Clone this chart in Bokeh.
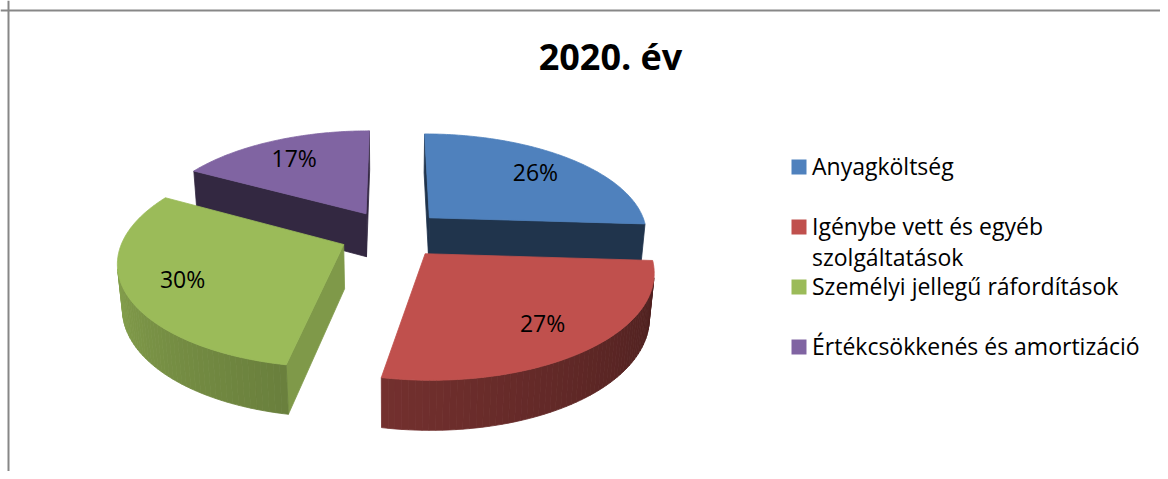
import numpy as np
from bokeh.plotting import figure
from bokeh.models import Range1d, Span, ColumnDataSource
from bokeh.core.properties import value
from bokeh.embed import file_html
from bokeh.resources import INLINE

# ---------------- data ----------------
title_text = "2020. év"
categories = [
    "Anyagköltség",
    "Igénybe vett és egyéb\nszolgáltatások",
    "Személyi jellegű ráfordítások",
    "Értékcsökkenés és amortizáció",
]
values = [26, 27, 30, 17]
colors = ["#4F81BD", "#C0504D", "#9BBB59", "#8064A2"]

# ---------------- style / geometry ----------------
W, H = 1160, 471
CX, CY = 391.5, 233.5      # pie centre (px, y downward)
K = 219                    # px per radius
SIN_T = 0.461
COS_T = float(np.sqrt(1 - SIN_T ** 2))
DIST = 5.91                # perspective distance (radii)
DEPTH = 0.23               # pie thickness (radii)
EXPLODE = 0.24
LABEL_R = 0.75
wall_shade = [(0.40, 0.40), (0.38, 0.60), (0.68, 0.95), (0.45, 0.45)]
side_shade = [0.40, 0.45, 0.82, 0.40]
FONT = "Open Sans"


def proj(X, Y, Z):
    sy = Y * COS_T - Z * SIN_T
    dz = Z * COS_T + Y * SIN_T
    s = DIST / (DIST - dz)
    return CX + K * X * s, CY - K * sy * s


def shade(hexc, f):
    h = hexc.lstrip("#")
    r, g, b = (int(h[i:i + 2], 16) for i in (0, 2, 4))
    return "#%02x%02x%02x" % tuple(max(0, min(255, int(round(c * f)))) for c in (r, g, b))


def visible(xs, ys):
    a = 0.0
    n = len(xs)
    for i in range(n):
        j = (i + 1) % n
        a += xs[i] * (-ys[j]) - xs[j] * (-ys[i])
    return a > 0


total = float(sum(values))
fracs = [v / total for v in values]
starts = np.concatenate([[0], np.cumsum(fracs)[:-1]]) * 360.0
ends = np.cumsum(fracs) * 360.0

slices = []
for i in range(len(values)):
    ts, te = starts[i], ends[i]
    tm = np.radians((ts + te) / 2)
    ox, oz = EXPLODE * np.sin(tm), -EXPLODE * np.cos(tm)
    slices.append((oz, i, ts, te, ox))

poly_x, poly_y, poly_c = [], [], []


def add(pts, col, cull=True):
    xs = [p[0] for p in pts]
    ys = [p[1] for p in pts]
    if cull and not visible(xs, ys):
        return
    poly_x.append(xs)
    poly_y.append(ys)
    poly_c.append(col)


label_x, label_y, label_t = [], [], []

for oz, i, ts, te, ox in sorted(slices):
    base = colors[i]

    def T(th, Y=0.0):
        r = np.radians(th)
        return proj(ox + np.sin(r), Y, oz - np.cos(r))

    CT = proj(ox, 0.0, oz)
    CB = proj(ox, -DEPTH, oz)
    add([CT, T(ts), T(ts, -DEPTH), CB], shade(base, side_shade[i]))
    add([CT, CB, T(te, -DEPTH), T(te)], shade(base, side_shade[i]))
    n = max(2, int(np.ceil((te - ts) / 1.5)))
    ths = np.linspace(ts, te, n + 1)
    fs, fe = wall_shade[i]
    for a, b in zip(ths[:-1], ths[1:]):
        f = fs + (fe - fs) * (((a + b) / 2 - ts) / (te - ts))
        add([T(a), T(b), T(b, -DEPTH), T(a, -DEPTH)], shade(base, f))
    arc = [T(t) for t in np.linspace(ts, te, n * 2 + 1)]
    add([CT] + arc, base, cull=False)

    tm = np.radians((ts + te) / 2)
    lx, ly = proj(ox + LABEL_R * np.sin(tm), 0.0, oz - LABEL_R * np.cos(tm))
    label_x.append(lx)
    label_y.append(ly)
    label_t.append("%d%%" % round(values[i] / total * 100))

p = figure(width=W, height=H, x_range=Range1d(0, W), y_range=Range1d(H, 0),
           x_axis_type=None, y_axis_type=None, toolbar_location=None,
           output_backend="svg", min_border=0)
p.outline_line_color = None
p.grid.visible = False
p.background_fill_color = "white"
p.border_fill_color = "white"

src = ColumnDataSource(dict(xs=poly_x, ys=poly_y, c=poly_c))
p.patches("xs", "ys", source=src, fill_color="c", line_color="c", line_width=0.8)

p.text(x=label_x, y=label_y, text=label_t, text_font=value(FONT),
       text_font_size="23px", text_align="center", text_baseline="middle",
       text_color="black")

# title
p.text(x=[610], y=[56], text=[title_text], text_font=value(FONT),
       text_font_size="36px", text_font_style="bold", text_align="center",
       text_baseline="middle", text_color="black")

# legend
LEG_X, LEG_Y0, LEG_STEP, LINE_H, KEY = 798.5, 166.5, 60, 31, 15
sq_y = [LEG_Y0 + k * LEG_STEP for k in range(len(categories))]
p.rect(x=[LEG_X] * len(categories), y=sq_y, width=KEY, height=KEY,
       fill_color=colors, line_color=None)
tx, ty, tt = [], [], []
for k, cat in enumerate(categories):
    for j, line in enumerate(cat.split("\n")):
        tx.append(LEG_X + 13)
        ty.append(sq_y[k] - 1 + j * LINE_H)
        tt.append(line)
p.text(x=tx, y=ty, text=tt, text_font=value(FONT), text_font_size="23px",
       text_align="left", text_baseline="middle", text_color="black")

# chart-area border (top and left visible)
p.add_layout(Span(location=10, dimension="width", line_color="#878787", line_width=2))
p.add_layout(Span(location=8, dimension="height", line_color="#878787", line_width=2))

open("out.html", "w").write(file_html(p, INLINE))
